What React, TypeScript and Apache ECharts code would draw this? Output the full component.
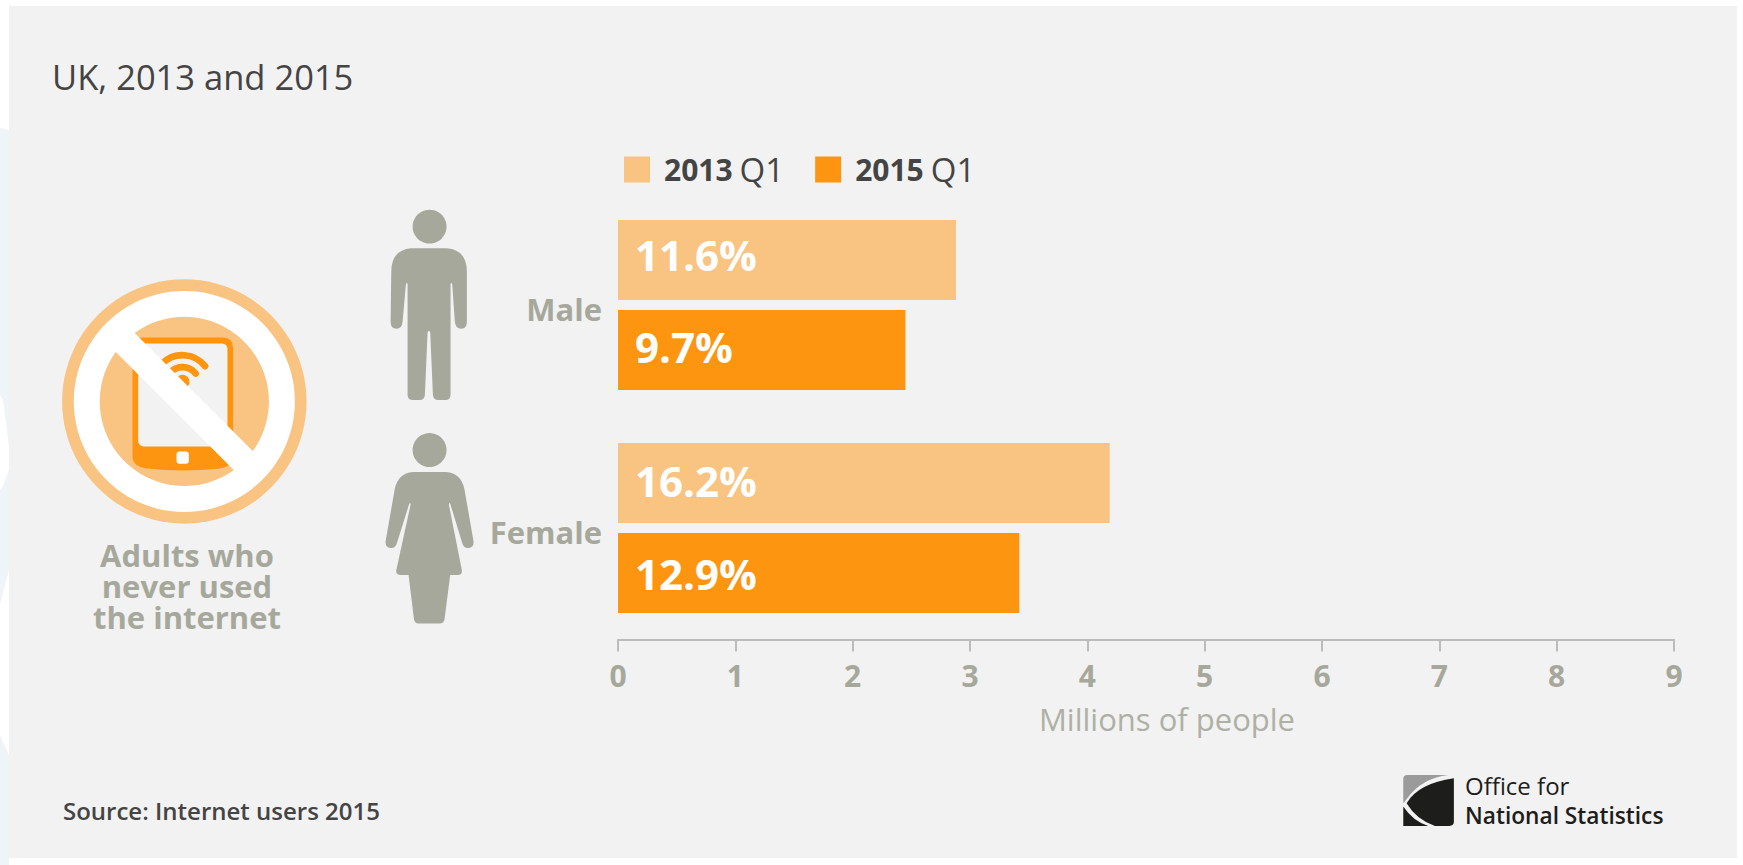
import React, { useEffect, useRef } from "react";
import * as echarts from "echarts";

const categories = ["Male", "Female"];
const seriesNames = ["2013 Q1", "2015 Q1"];
const values2013 = [2.88, 4.19];
const values2015 = [2.45, 3.42];
const pct2013 = ["11.6%", "16.2%"];
const pct2015 = ["9.7%", "12.9%"];
const xTicks = [0, 1, 2, 3, 4, 5, 6, 7, 8, 9];
const labelShift2013 = [-6, -2.5];
const labelShift2015 = [-4, 0];

const PEACH = "#f9c381";
const ORANGE = "#fe9510";
const GREY = "#a6a89c";
const PANEL = "#f2f2f2";
const FONT = "'Open Sans', sans-serif";

const MAN = "M1235 205 L1342 205 Q1402 210 1402 275 L1402 425 Q1402 447 1385 447 Q1368 447 1366 425 L1358 312 Q1355 306 1353 312 L1353 645 Q1353 661 1337 661 L1316 661 Q1301 661 1300 645 L1292 458 Q1288 448 1284 458 L1276 645 Q1275 661 1260 661 L1240 661 Q1224 661 1224 645 L1224 312 Q1222 306 1219 312 L1209 425 Q1207 447 1190 447 Q1173 447 1173 425 L1175 275 Q1175 210 1235 205 Z";
const WOMAN = "M1240 877 L1340 877 Q1385 880 1395 930 L1422 1085 Q1424 1103 1407 1105 Q1392 1106 1388 1090 L1352 972 Q1348 966 1348 975 L1387 1172 Q1388 1186 1375 1186 L1352 1186 L1335 1318 Q1333 1332 1320 1332 L1258 1332 Q1245 1332 1243 1318 L1227 1186 L1202 1186 Q1188 1186 1190 1172 L1233 975 Q1233 966 1229 972 L1192 1090 Q1188 1106 1173 1105 Q1156 1103 1158 1085 L1185 930 Q1195 880 1240 877 Z";
const TABLET = "M430 473 L670 473 Q700 473 700 505 L700 830 Q700 860 660 866 Q550 878 440 866 Q398 860 398 830 L398 505 Q398 473 430 473 Z";
const LOGO_MAIN = "M312 85 L312 215 Q312 228 298 228 L255 228 Q200 210 170 160 Q205 100 312 85 Z";
const LOGO_GREY = "M172 75 L295 75 Q215 85 172 145 L160 160 L160 87 Q160 75 172 75 Z";
const LOGO_LOW = "M160 170 Q190 215 235 228 L160 228 Z";

let registered = false;
function register() {
  if (registered) return;
  registered = true;
  echarts.graphic.registerShape("onsMan", echarts.graphic.extendPath(MAN, {}));
  echarts.graphic.registerShape("onsWoman", echarts.graphic.extendPath(WOMAN, {}));
  echarts.graphic.registerShape("onsTablet", echarts.graphic.extendPath(TABLET, {}));
  echarts.graphic.registerShape("onsLogoMain", echarts.graphic.extendPath(LOGO_MAIN, {}));
  echarts.graphic.registerShape("onsLogoGrey", echarts.graphic.extendPath(LOGO_GREY, {}));
  echarts.graphic.registerShape("onsLogoLow", echarts.graphic.extendPath(LOGO_LOW, {}));
}

const S = 1 / 3;
const wifiArc = (r: number, lw: number) => ({
  type: "arc",
  shape: { cx: 548, cy: 612, r, startAngle: (-135 * Math.PI) / 180, endAngle: (-38 * Math.PI) / 180 },
  style: { stroke: ORANGE, fill: "none", lineWidth: lw, lineCap: "round" },
});

export default function App() {
  const ref = useRef<HTMLDivElement>(null);
  useEffect(() => {
    document.body.style.margin = "0";
    document.body.style.background = "#ffffff";
    register();
    const chart = echarts.init(ref.current!, null, { renderer: "svg" });
    const barData = (values: number[], texts: string[], shifts: number[]) =>
      values.map((value, i) => ({
        value,
        label: {
          show: true,
          position: "insideLeft",
          distance: 17,
          offset: [0, shifts[i]],
          color: "#ffffff",
          fontFamily: FONT,
          fontWeight: "bold",
          fontSize: 42,
          formatter: texts[i],
        },
      }));
    chart.setOption({
      animation: false,
      backgroundColor: "#ffffff",
      title: {
        text: "UK, 2013 and 2015",
        left: 52,
        top: 55,
        padding: 0,
        textStyle: { color: "#444444", fontFamily: FONT, fontWeight: "normal", fontSize: 34.5, lineHeight: 42 },
      },
      legend: {
        left: 624,
        top: 153,
        padding: 0,
        itemWidth: 26,
        itemHeight: 26,
        itemGap: 31,
        icon: "rect",
        selectedMode: false,
        data: seriesNames,
        formatter: (name: string) => {
          const [y, q] = name.split(" ");
          return `{b|${y}}{r|${q}}`;
        },
        textStyle: {
          rich: {
            b: { color: "#444444", fontFamily: FONT, fontWeight: "bold", fontSize: 30, padding: [0, 0, 0, 9] },
            r: { color: "#444444", fontFamily: FONT, fontWeight: "normal", fontSize: 33, padding: [0, 0, 0, 7] },
          },
        },
      },
      grid: { left: 618, top: 193.5, width: 1056, height: 446, containLabel: false },
      xAxis: {
        type: "value",
        min: 0,
        max: 9,
        interval: 1,
        position: "bottom",
        name: "Millions of people",
        nameLocation: "middle",
        nameGap: 64,
        nameTextStyle: { color: "#aeb0a5", fontFamily: FONT, fontSize: 31, fontWeight: 400, padding: [0, 0, 0, 42] },
        axisLine: { show: true, lineStyle: { color: "#bcbcbc", width: 2 } },
        axisTick: { show: true, length: 12, lineStyle: { color: "#bcbcbc", width: 2 } },
        splitLine: { show: false },
        axisLabel: {
          margin: 21,
          color: GREY,
          fontFamily: FONT,
          fontWeight: "bold",
          fontSize: 30,
          formatter: (v: number) => String(xTicks[v]),
        },
      },
      yAxis: {
        type: "category",
        inverse: true,
        data: categories,
        axisLine: { show: false },
        axisTick: { show: false },
        axisLabel: {
          margin: 16,
          color: GREY,
          fontFamily: FONT,
          fontWeight: "bold",
          fontSize: 31,
          verticalAlign: "top",
          lineHeight: 8,
        },
      },
      series: [
        {
          name: seriesNames[0],
          type: "bar",
          barWidth: 80,
          barGap: "12.5%",
          itemStyle: { color: PEACH },
          data: barData(values2013, pct2013, labelShift2013),
        },
        {
          name: seriesNames[1],
          type: "bar",
          barWidth: 80,
          itemStyle: { color: ORANGE },
          data: barData(values2015, pct2015, labelShift2015),
        },
      ],
      graphic: [
        {
          type: "group",
          z: -10,
          silent: true,
          children: [
            { type: "polygon", shape: { points: [[0, 128], [9, 130], [9, 447], [3, 400], [0, 395]] }, style: { fill: "#eef4f7" } },
            { type: "polygon", shape: { points: [[0, 490], [2, 488], [9, 470], [9, 570], [0, 605]] }, style: { fill: "#eef4f7" } },
            { type: "polygon", shape: { points: [[0, 735], [9, 755], [9, 865], [0, 865]] }, style: { fill: "#eef4f7" } },
            { type: "rect", shape: { x: 9, y: 6, width: 1728, height: 852 }, style: { fill: PANEL } },
          ],
        },
        {
          type: "group",
          x: 0,
          y: 180,
          scaleX: S,
          scaleY: S,
          silent: true,
          children: [
            { type: "circle", shape: { cx: 553.5, cy: 665, r: 367 }, style: { fill: PEACH } },
            { type: "circle", shape: { cx: 553.5, cy: 665, r: 332 }, style: { fill: "#ffffff" } },
            { type: "circle", shape: { cx: 553.5, cy: 665, r: 254 }, style: { fill: PEACH } },
            { type: "onsTablet", style: { fill: ORANGE } },
            { type: "rect", shape: { x: 415, y: 491, width: 268, height: 309, r: 16 }, style: { fill: PANEL } },
            { type: "rect", shape: { x: 530, y: 815, width: 37, height: 37, r: 9 }, style: { fill: "#ffffff" } },
            wifiArc(86, 20),
            wifiArc(50, 20),
            { type: "circle", shape: { cx: 548, cy: 606, r: 21 }, style: { fill: ORANGE } },
            { type: "polygon", shape: { points: [[385, 440], [780, 835], [723, 892], [328, 497]] }, style: { fill: "#ffffff" } },
            { type: "circle", shape: { cx: 1290, cy: 140, r: 51 }, style: { fill: GREY } },
            { type: "onsMan", style: { fill: GREY } },
            { type: "circle", shape: { cx: 1290, cy: 811, r: 51 }, style: { fill: GREY } },
            { type: "onsWoman", style: { fill: GREY } },
          ],
        },
        {
          type: "text",
          x: 187,
          y: 539,
          silent: true,
          style: {
            text: "Adults who\nnever used\nthe internet",
            fill: GREY,
            font: `bold 31px ${FONT}`,
            align: "center",
            lineHeight: 31,
          },
        },
        {
          type: "text",
          x: 63,
          y: 798,
          silent: true,
          style: { text: "Source: Internet users 2015", fill: "#444444", font: `600 24px ${FONT}` },
        },
        {
          type: "group",
          x: 1350,
          y: 750,
          scaleX: S,
          scaleY: S,
          silent: true,
          children: [
            { type: "onsLogoGrey", style: { fill: "#9b9b9b" } },
            { type: "onsLogoMain", style: { fill: "#1d1d1b" } },
            { type: "onsLogoLow", style: { fill: "#1d1d1b" } },
          ],
        },
        {
          type: "text",
          x: 1465,
          y: 773,
          silent: true,
          style: { text: "Office for", fill: "#1d1d1b", font: `400 24px ${FONT}` },
        },
        {
          type: "text",
          x: 1465,
          y: 804,
          silent: true,
          style: { text: "National Statistics", fill: "#1d1d1b", font: `600 22.7px ${FONT}` },
        },
      ],
    });
    return () => chart.dispose();
  }, []);
  return <div ref={ref} style={{ width: 1743, height: 865 }} />;
}
